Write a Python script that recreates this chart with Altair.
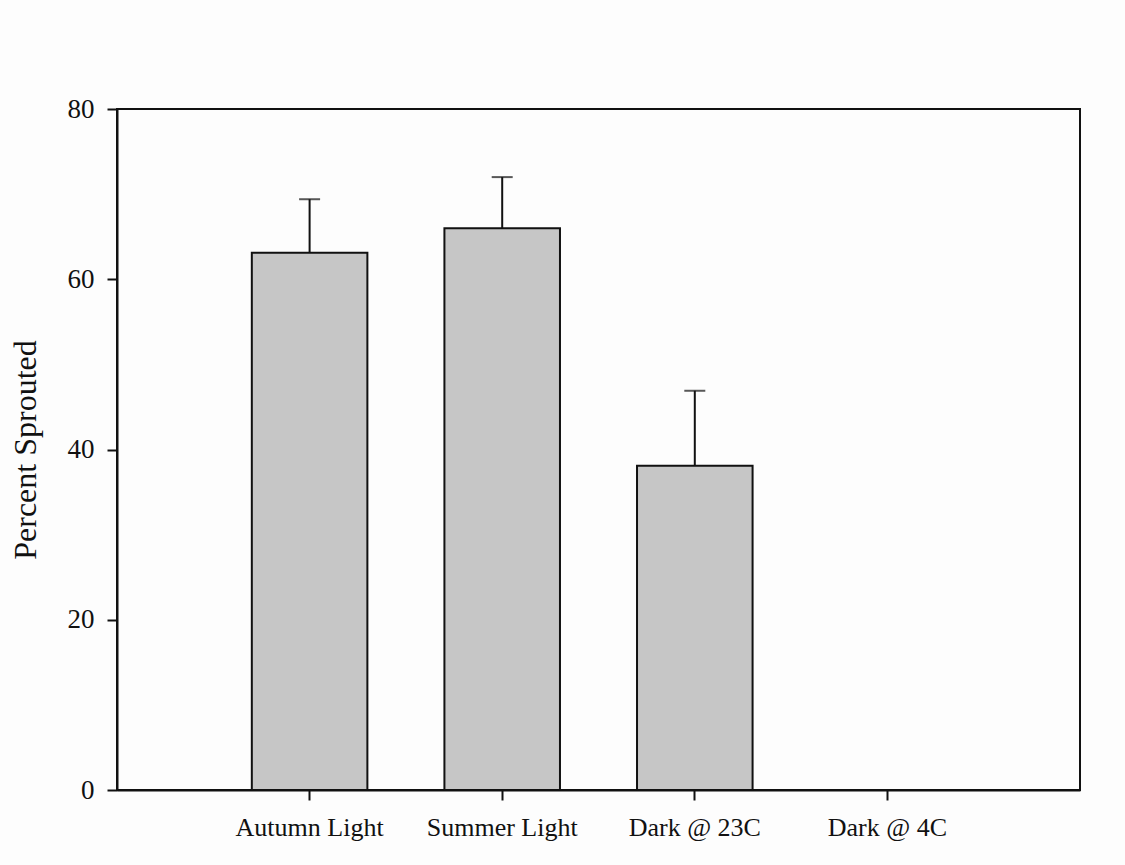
import altair as alt
import pandas as pd

# Sprouting results per treatment (mean and upper error)
categories = ["Autumn Light", "Summer Light", "Dark @ 23C", "Dark @ 4C"]
means = [63.1, 66.0, 38.1, 0.0]
errors = [6.3, 6.0, 8.8, 0.0]

df = pd.DataFrame({"treatment": categories, "mean": means, "err": errors})
df["upper"] = df["mean"] + df["err"]

FONT = "Liberation Serif"

x_enc = alt.X(
    "treatment:N",
    sort=categories,
    scale=alt.Scale(paddingInner=0.4, paddingOuter=0.7),
    axis=alt.Axis(
        title=None,
        labelAngle=0,
        labelFont=FONT,
        labelFontSize=26,
        labelColor="#111111",
        labelPadding=14,
        tickSize=10,
        tickWidth=2,
        tickColor="#111111",
        domainColor="#111111",
        domainWidth=2,
        grid=False,
    ),
)

y_scale = alt.Scale(domain=[0, 80], nice=False)
y_axis = alt.Axis(
    title="Percent Sprouted",
    values=[0, 20, 40, 60, 80],
    labelFont=FONT,
    labelFontSize=27,
    labelColor="#111111",
    labelPadding=13,
    tickSize=10,
    tickWidth=2,
    tickColor="#111111",
    domainColor="#111111",
    domainWidth=2,
    grid=False,
    titleFont=FONT,
    titleFontSize=32,
    titleFontWeight="normal",
    titleColor="#111111",
    titleX=-82,
    titleBaseline="alphabetic",
)

bars = alt.Chart(df).mark_bar(
    color="#c6c6c6", stroke="#111111", strokeWidth=2
).encode(
    x=x_enc,
    y=alt.Y("mean:Q", scale=y_scale, axis=y_axis),
)

err_df = df[df["err"] > 0]

stems = alt.Chart(err_df).mark_rule(color="#111111", strokeWidth=2).encode(
    x=alt.X("treatment:N", sort=categories),
    y=alt.Y("mean:Q", scale=y_scale),
    y2="upper:Q",
)

caps = alt.Chart(err_df).mark_tick(
    color="#111111", size=21, thickness=2, orient="horizontal"
).encode(
    x=alt.X("treatment:N", sort=categories),
    y=alt.Y("upper:Q", scale=y_scale),
)

chart = (
    alt.layer(bars, stems, caps)
    .properties(
        width=963,
        height=681,
        background="#fdfdfd",
        padding={"left": 117, "top": 109, "right": 45, "bottom": 75},
        autosize=alt.AutoSizeParams(type="none"),
    )
    .configure_view(stroke="#111111", strokeWidth=2)
)

chart.save("out.html", embed_options={"renderer": "svg", "actions": False})
